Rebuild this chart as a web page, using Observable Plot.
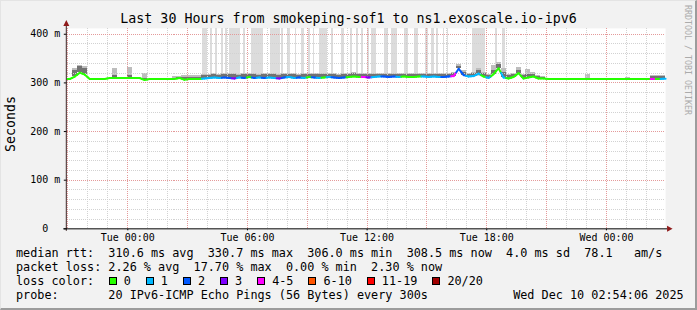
<!DOCTYPE html>
<html><head><meta charset="utf-8">
<script src="https://cdn.jsdelivr.net/npm/d3@7"></script>
<script src="https://cdn.jsdelivr.net/npm/@observablehq/plot@0.6"></script>
<style>
html,body{margin:0;padding:0;background:#f2f2f2;}
#wrap{position:relative;width:697px;height:310px;background:#f2f2f2;overflow:hidden;font-family:"DejaVu Sans Mono",monospace;color:#000;box-sizing:border-box;border-right:2px solid #9c9c9c;border-bottom:2px solid #9c9c9c;border-top:1px solid #e4e4e4;border-left:1px solid #e4e4e4;}
#chart{position:absolute;left:-1px;top:-1px;}
.abs{position:absolute;white-space:pre;}
#title{left:-1px;top:10px;width:697px;text-align:center;font-size:13.3px;line-height:16px;}
#ylabel{left:9.5px;top:122.5px;font-size:13.3px;line-height:16px;transform:translate(-50%,-50%) rotate(-90deg);}
#wm{left:687px;top:59px;font-size:8.3px;line-height:10px;color:#ababab;transform:translate(-50%,-50%) rotate(90deg);}
.stat{left:15px;font-size:11.8px;line-height:14px;}
#legend{left:107.7px;top:273px;font-size:11.8px;line-height:14px;display:flex;align-items:baseline;}
.item{display:inline-block;}
.box{display:inline-block;width:6px;height:6px;border:1px solid #000;margin-right:7px;vertical-align:baseline;}
.lab{margin-right:15px;}
</style></head>
<body>
<div id="wrap">
  <div id="chart"></div>
  <div id="title" class="abs"></div>
  <div id="ylabel" class="abs"></div>
  <div id="wm" class="abs"></div>
  <div id="legend" class="abs"></div>
</div>
<script>
// ---------------- data ----------------
const titleText = "Last 30 Hours from smokeping-sof1 to ns1.exoscale.io-ipv6";
const yLabelText = "Seconds";
const watermark = "RRDTOOL / TOBI OETIKER";
const windowStart = "2025-12-08T20:58:00Z";
const windowEnd = "2025-12-10T02:58:00Z";
const slotMinutes = 15;
const yMax = 412;
const yTicks = [0, 100, 200, 300, 400];
const xTickTimes = ["2025-12-09T00:00:00Z", "2025-12-09T06:00:00Z", "2025-12-09T12:00:00Z", "2025-12-09T18:00:00Z", "2025-12-10T00:00:00Z"];

// median RTT (ms) per 15-minute slot
const median = [
  308,313,321,317,308,308,308,308,310,310,
  310,310,310,310,310,306,308,308,308,308,
  308,308,310,306.5,308,308,308,309,310,311,
  310,311,310,309,311,310,312,310,311,310,
  311,310,309,311,312,310,311,310,312,311,
  310,311,312,311,310,311,312,313,312,312,
  311,312,313,313,312,313,312,313,312,312,
  313,313,312,313,312,312,313,314,329,316,
  313,314,319,313,310,318,330,311,309,312,
  320,309,311,313,309,309,308,308,308,308,
  308,308,308,308,308,308,308,308,308,308,
  308,308,308,308,308,308,308,308,308,308.5];
// loss class per slot (index into lossLabels)
const lossClass = [
  0,0,0,0,0,0,0,0,0,0,
  0,0,0,0,0,0,0,0,0,0,
  0,0,0,0,0,0,0,1,1,1,
  1,2,2,3,1,2,0,2,1,2,
  1,1,3,2,1,1,2,1,0,2,
  1,0,1,2,2,2,0,0,0,4,
  3,1,1,2,2,2,1,0,0,0,
  0,1,1,1,1,2,2,4,2,2,
  1,1,1,0,1,0,0,1,0,0,
  0,0,0,0,0,0,0,0,0,0,
  0,0,0,0,0,0,0,0,0,0,
  0,0,0,0,0,0,0,4,0,1];
// top of dense smoke (ms)
const smokeTop = [
  308,326,334,330,308,308,308,308,310,316,
  310,310,316,310,310,310,308,308,308,308,
  308,308,311,311,311,311,311,315,316,317,
  316,317,318,317,316,317,318,317,316,317,
  318,317,316,317,318,317,316,317,318,317,
  318,317,318,317,316,317,318,319,318,318,
  317,318,318,318,317,318,317,318,317,318,
  318,317,317,318,317,318,318,320,334,321,
  318,320,325,319,316,326,337,322,316,318,
  326,315,318,318,314,312,308,308,308,308,
  308,308,308,308,308,308,308,308,308,308,
  308,308,308,308,308,308,308,313,313,313];
// top of light smoke (ms)
const smokeMax = [
  308,330,336,334,308,308,308,308,310,329,
  310,310,331,310,310,320,308,308,308,308,
  308,313,314,315,315,315,315,317,318,319,
  318,319,320,319,318,319,320,319,318,319,
  320,319,318,319,320,319,318,319,320,319,
  320,319,320,319,318,319,320,321,320,320,
  319,320,320,320,319,320,319,320,319,320,
  320,319,319,320,319,320,320,322,338,326,
  320,322,330,321,318,335,341,330,318,320,
  332,317,328,322,316,313,308,308,308,308,
  308,308,308,308,317,308,308,308,308,308,
  308,308,311,308,308,308,308,315,315,315];
// pings above the graph: intervals in hours after window start
const outlierStart = [6.79,7.20,7.45,7.75,7.95,8.12,8.84,9.25,10.17,10.75,11.05,11.42,11.75,12.09,12.34,12.67,13.25,13.75,14.22,14.50,14.75,15.05,15.25,15.92,16.25,16.89,17.39,17.97,18.25,18.50,18.84,19.05,20.30,21.47,21.84];
const outlierEnd   = [7.04,7.29,7.54,7.84,8.04,8.67,8.92,9.84,10.67,10.84,11.17,11.50,11.89,12.17,12.42,13.04,13.34,13.89,14.30,14.59,14.84,15.17,15.50,16.12,16.55,17.09,17.59,18.09,18.39,18.62,18.92,19.12,20.95,21.59,21.95];

const lossLabels = ["0", "1", "2", "3", "4-5", "6-10", "11-19", "20/20"];
const lossColors = ["#26ff00", "#00b8ff", "#0059ff", "#7e00ff", "#ff00ff", "#ff5500", "#ff0000", "#a10000"];

const statLines = [
  "median rtt:  310.6 ms avg  330.7 ms max  306.0 ms min  308.5 ms now  4.0 ms sd  78.1   am/s",
  "packet loss: 2.26 % avg  17.70 % max  0.00 % min  2.30 % now",
  "loss color:",
  "probe:       20 IPv6-ICMP Echo Pings (56 Bytes) every 300s            Wed Dec 10 02:54:06 2025"
];

// ---------------- build ----------------
const t0 = new Date(windowStart), tEnd = new Date(windowEnd);
const HOUR = 3600e3;
const at = h => new Date(+t0 + h * HOUR);
const slotH = slotMinutes / 60;

const slots = median.map((m, i) => ({
  a: at(i * slotH), b: at((i + 1) * slotH), m,
  top: smokeTop[i], max: smokeMax[i]
}));
const segs = [];
median.forEach((m, i) => {
  const prev = i > 0 ? median[i - 1] : m;
  const next = i < median.length - 1 ? median[i + 1] : m;
  const c = lossColors[lossClass[i]];
  segs.push({x1: at(i * slotH), y1: (prev + m) / 2, x2: at((i + 0.5) * slotH), y2: m, c});
  segs.push({x1: at((i + 0.5) * slotH), y1: m, x2: at((i + 1) * slotH), y2: (m + next) / 2, c});
});
const outliers = outlierStart.map((h, i) => ({
  a: at(h), b: at(outlierEnd[i]),
  base: median[Math.min(median.length - 1, Math.floor(h / slotH))], top: yMax
}));

const hoursAll = d3.utcHour.range(t0, tEnd);
const xMajor = hoursAll.filter(d => d.getUTCHours() % 3 === 0);
const xMinor = hoursAll.filter(d => d.getUTCHours() % 3 !== 0);
const yMajor = d3.range(100, yMax, 100);
const yMinor = d3.range(20, yMax, 20).filter(v => v % 100 !== 0);

const minorColor = "#d2d2d2", majorColor = "#e49a9a";

const chart = Plot.plot({
  width: 697, height: 310,
  marginLeft: 67, marginRight: 30, marginTop: 28, marginBottom: 81,
  style: {background: "transparent", fontFamily: "DejaVu Sans Mono", fontSize: "10px", color: "#000", overflow: "visible"},
  x: {type: "utc", domain: [t0, tEnd], ticks: xTickTimes.map(s => new Date(s)), tickFormat: d3.utcFormat("%a %H:%M"), tickSize: 2, tickPadding: 3, label: null},
  y: {domain: [0, yMax], ticks: yTicks, tickFormat: d => d === 0 ? "0\u00a0\u00a0" : `${d} m`, tickSize: 3, tickPadding: 4, label: null},
  marks: [
    Plot.frame({fill: "#fff", stroke: "none"}),
    Plot.rect(outliers, {x1: "a", x2: "b", y1: "base", y2: "top", fill: "#dcdcdc", shapeRendering: "crispEdges"}),
    Plot.rect(slots, {x1: "a", x2: "b", y1: "m", y2: "max", fill: "#bdbdbd", shapeRendering: "crispEdges"}),
    Plot.rect(slots, {x1: "a", x2: "b", y1: "m", y2: "top", fill: "#727272", shapeRendering: "crispEdges"}),
    Plot.ruleY(yMinor, {stroke: minorColor, strokeDasharray: "1,1", shapeRendering: "crispEdges"}),
    Plot.ruleX(xMinor, {stroke: minorColor, strokeDasharray: "1,1", shapeRendering: "crispEdges"}),
    Plot.ruleY(yMajor, {stroke: majorColor, strokeDasharray: "1,1", shapeRendering: "crispEdges"}),
    Plot.ruleX(xMajor, {stroke: majorColor, strokeDasharray: "1,1", shapeRendering: "crispEdges"}),
    Plot.link(segs, {x1: "x1", y1: "y1", x2: "x2", y2: "y2", stroke: "c", strokeWidth: 2, strokeLinecap: "round"})
  ]
});
document.getElementById("chart").appendChild(chart);

// axis lines and arrows (positions from the scales)
const [rx0, rx1] = chart.scale("x").range;
const [ry0, ry1] = chart.scale("y").range;
const svg = d3.select(chart);
const ax = Math.round(rx0) - 0.5, ay = Math.round(ry0) + 0.5;
svg.append("line").attr("x1", ax).attr("x2", ax).attr("y1", ay + 2).attr("y2", ry1 - 2).attr("stroke", "#3a2222");
svg.append("line").attr("x1", ax - 3).attr("x2", rx1 + 2).attr("y1", ay).attr("y2", ay).attr("stroke", "#000");
svg.append("path").attr("d", `M${ax - 3},${ry1 - 2}L${ax + 3},${ry1 - 2}L${ax},${ry1 - 8}Z`).attr("fill", "#8f1a1a");
svg.append("path").attr("d", `M${rx1 + 2},${ay - 3}L${rx1 + 2},${ay + 3}L${rx1 + 7.5},${ay}Z`).attr("fill", "#8f1a1a");

// texts
const wrap = document.getElementById("wrap");
document.getElementById("title").textContent = titleText;
document.getElementById("ylabel").textContent = yLabelText;
document.getElementById("wm").textContent = watermark;
statLines.forEach((s, i) => {
  const d = document.createElement("div");
  d.className = "abs stat";
  d.style.top = (245 + i * 14) + "px";
  d.textContent = s;
  wrap.appendChild(d);
});
const legend = document.getElementById("legend");
lossLabels.forEach((l, i) => {
  const item = document.createElement("span");
  item.className = "item";
  const box = document.createElement("span");
  box.className = "box";
  box.style.background = lossColors[i];
  const lab = document.createElement("span");
  lab.className = "lab";
  lab.textContent = l;
  item.appendChild(box); item.appendChild(lab);
  legend.appendChild(item);
});
</script>
</body></html>
